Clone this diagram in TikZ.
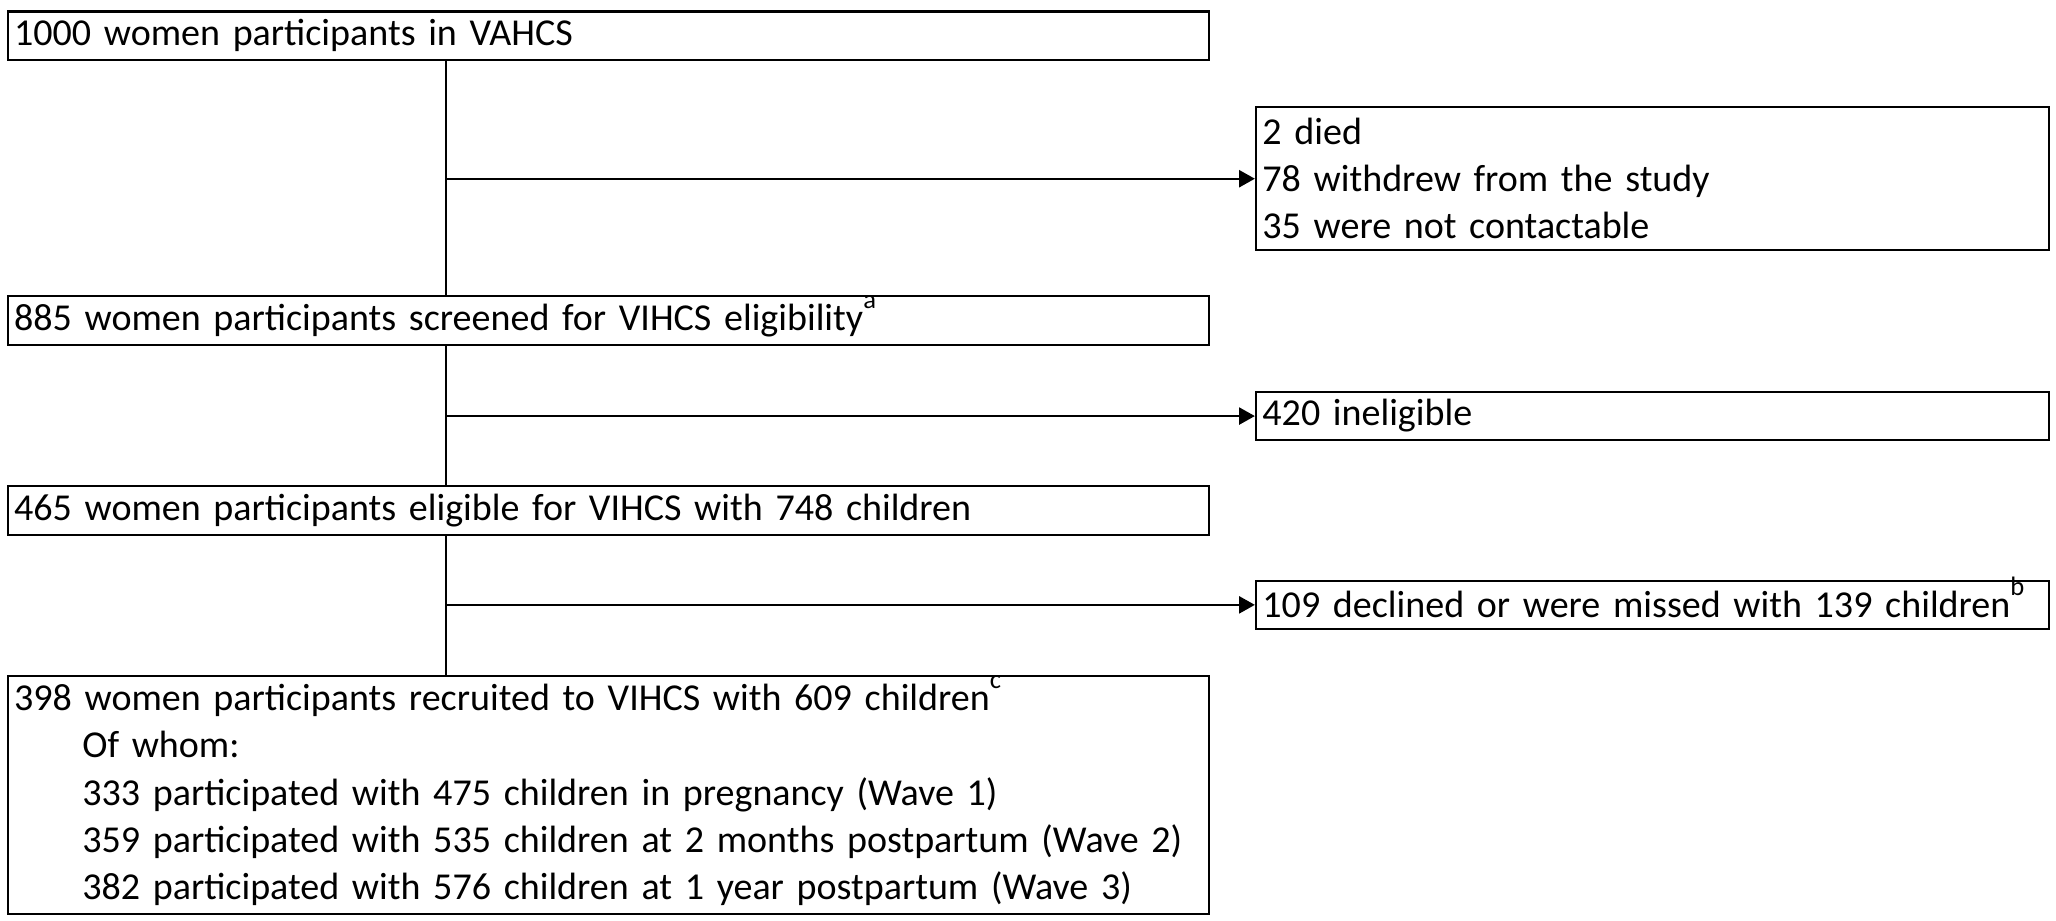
\documentclass[tikz,border=0pt]{standalone}
\usepackage{fontspec}
\setmainfont{Carlito}
\usetikzlibrary{arrows.meta}
\newcommand\supmark[1]{\smash{\raisebox{0.22em}{\textsuperscript{#1}}}}
\begin{document}
\begin{tikzpicture}[x=0.5pt,y=-0.5pt,
  every node/.style={font=\fontsize{14.5}{18}\selectfont},
  box/.style={draw, line width=0.8pt, anchor=north west, inner xsep=2.5pt, inner ysep=0pt, align=left},
  wide/.style={box, minimum width=458pt, text width=453pt},
  narrow/.style={box, minimum width=302.5pt, text width=297.5pt},
  link/.style={line width=0.8pt},
  arr/.style={line width=0.8pt, -{Triangle[length=6pt,width=6.5pt]}}]
\useasboundingbox (0,0) rectangle (1568,702);
\coordinate (spine) at (340,0);
\node[wide, minimum height=18.5pt] (b1) at (5,8) {1000 women participants in VAHCS};
\node[narrow, minimum height=54.5pt] (b2) at (957,81) {2 died\\78 withdrew from the study\\35 were not contactable};
\node[wide, minimum height=18.5pt] (b3) at (5,225) {885 women participants screened for VIHCS eligibility\supmark{a}};
\node[narrow, minimum height=18.5pt] (b4) at (957,298) {420 ineligible};
\node[wide, minimum height=18.5pt] (b5) at (5,370) {465 women participants eligible for VIHCS with 748 children};
\node[narrow, minimum height=18.5pt] (b6) at (957,442) {109 declined or were missed with 139 children\supmark{b}};
\node[wide, minimum height=90.5pt] (b7) at (5,515) {398 women participants recruited to VIHCS with 609 children\supmark{c}\\
\hspace*{26pt}Of whom:\\
\hspace*{26pt}333 participated with 475 children in pregnancy (Wave 1)\\
\hspace*{26pt}359 participated with 535 children at 2 months postpartum (Wave 2)\\
\hspace*{26pt}382 participated with 576 children at 1 year postpartum (Wave 3)};
\draw[link] (b1.south -| spine) -- (b3.north -| spine);
\draw[link] (b3.south -| spine) -- (b5.north -| spine);
\draw[link] (b5.south -| spine) -- (b7.north -| spine);
\draw[arr] (b2.west -| spine) -- (b2.west);
\draw[arr] (b4.west -| spine) -- (b4.west);
\draw[arr] (b6.west -| spine) -- (b6.west);
\end{tikzpicture}
\end{document}
